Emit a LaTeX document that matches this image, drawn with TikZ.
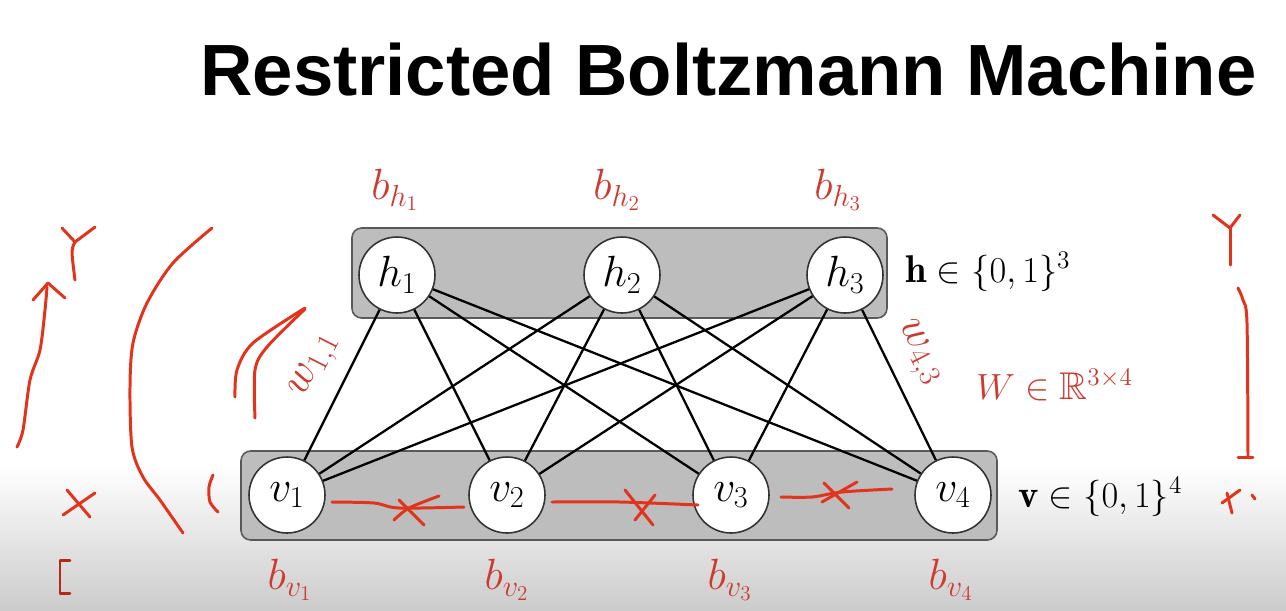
\documentclass[tikz,border=0pt]{standalone}
\usepackage{amsmath,amssymb}
\usepackage{fontspec}
\newfontfamily\titlefont{Liberation Sans}
\usepackage{tikz}
\usetikzlibrary{positioning,backgrounds,calc}
\definecolor{labred}{RGB}{206,58,48}
\definecolor{inkred}{RGB}{226,52,28}
\definecolor{boxgray}{RGB}{189,189,189}
\tikzset{
  unit/.style={circle, draw=black!80, fill=white, line width=0.9pt, minimum size=1.52cm,
               inner sep=0pt, font=\fontsize{23}{27}\selectfont},
  layerbox/.style={rounded corners=5.5pt, draw=black!65, fill=boxgray, line width=0.9pt},
  edge/.style={black, line width=1.3pt},
  bias/.style={text=labred, font=\fontsize{25}{29}\selectfont, inner sep=0pt},
  setlab/.style={anchor=west, inner sep=0pt, font=\fontsize{22}{26}\selectfont},
  ink/.style={draw=inkred, line width=1.7pt, line cap=round, line join=round},
}
\begin{document}
\begin{tikzpicture}[x=0.02cm,y=-0.02cm]
\useasboundingbox (0,0) rectangle (1286,610);
\node[anchor=base west, inner sep=0pt, font=\titlefont\bfseries\fontsize{41.3}{48}\selectfont]
  (title) at (200,95) {Restricted Boltzmann Machine};
% hidden and visible units
\foreach \i/\x in {1/397,2/622,3/845}{
  \node[unit] (h\i) at (\x,275) {$h_{\i}$};
}
\foreach \j/\x in {1/287,2/507,3/731,4/953}{
  \node[unit] (v\j) at (\x,495) {$v_{\j}$};
}
\begin{scope}[on background layer]
  \fill[white] (0,0) rectangle (1286,610);
  \shade[top color=white, bottom color=black!20] (0,465) rectangle (1286,610);   % screen fade
  \draw[layerbox] (352,228) rectangle (887,318);
  \draw[layerbox] (241,451) rectangle (997,540);
\end{scope}
\foreach \i in {1,2,3}\foreach \j in {1,2,3,4}{
  \draw[edge] (h\i) -- (v\j);   % full bipartite
}
% biases
\foreach \i/\x in {1/395,2/617,3/838}{
  \node[bias] (bh\i) at (\x,190) {$b_{h_{\i}}$};
}
\foreach \j/\x in {1/290,2/507,3/730,4/951}{
  \node[bias] (bv\j) at (\x,580) {$b_{v_{\j}}$};
}
\node[bias, rotate=63] (w11) at (316,366) {$w_{1,1}$};
\node[bias, rotate=-63] (w43) at (918,353) {$w_{4,3}$};
\node[setlab] (hset) at (905,272) {$\mathbf{h}\in\{0,1\}^3$};
\node[setlab] (vset) at (1018,497) {$\mathbf{v}\in\{0,1\}^4$};
\node[setlab, text=labred] (wset) at (976,385) {$W\in\mathbb{R}^{3\times4}$};
% hand-drawn marks
\draw[ink] (62,228) -- (75,242) -- (95,227);
\draw[ink] plot[smooth] coordinates {(75,242) (72,252) (75,280)};
\draw[ink] plot[smooth] coordinates {(17,447) (23,430) (30,380) (40,350) (45,310) (47,287)};
\draw[ink] (33,300) -- (48,283) -- (65,298);
\draw[ink] plot[smooth] coordinates {(212,228) (173,263) (147,303) (133,343) (130,387) (132,447) (143,477) (160,500) (183,533)};
\draw[ink] plot[smooth] coordinates {(235,397) (237,370) (253,343) (305,308)};
\draw[ink] plot[smooth] coordinates {(255,418) (255,370) (267,347) (305,309)};
\draw[ink] (67,490) -- (90,517);
\draw[ink] (63,515) -- (95,493);
\draw[ink] plot[smooth] coordinates {(213,475) (209,487) (210,502) (218,512)};
\draw[ink, draw=inkred!80!black] (70,560) -- (60,560) -- (60,593) -- (70,593);
\draw[ink] (1213,215) -- (1230,228) -- (1240,215);
\draw[ink] (1230,228) -- (1230,265);
\draw[ink] plot[smooth] coordinates {(1238,288) (1243,300) (1247,323) (1248,457)};
\draw[ink] (1238,457) -- (1253,457);
\draw[ink] (1222,503) -- (1240,490);
\draw[ink] (1227,493) -- (1232,513);
\draw[ink] (1252,495) -- (1255,499);
\draw[ink] plot[smooth] coordinates {(332,502) (374,503) (399,508) (464,507)};
\draw[ink] plot[smooth] coordinates {(394,520) (409,508) (439,496)};
\draw[ink] (399,500) -- (424,525);
\draw[ink] plot[smooth] coordinates {(552,502) (620,502) (698,505)};
\draw[ink] (625,490) -- (653,525);
\draw[ink] (655,495) -- (635,520);
\draw[ink] plot[smooth] coordinates {(781,497) (812,497) (842,492) (892,489)};
\draw[ink] (824,483) -- (849,508);
\draw[ink] (822,502) -- (857,482);
\end{tikzpicture}
\end{document}
